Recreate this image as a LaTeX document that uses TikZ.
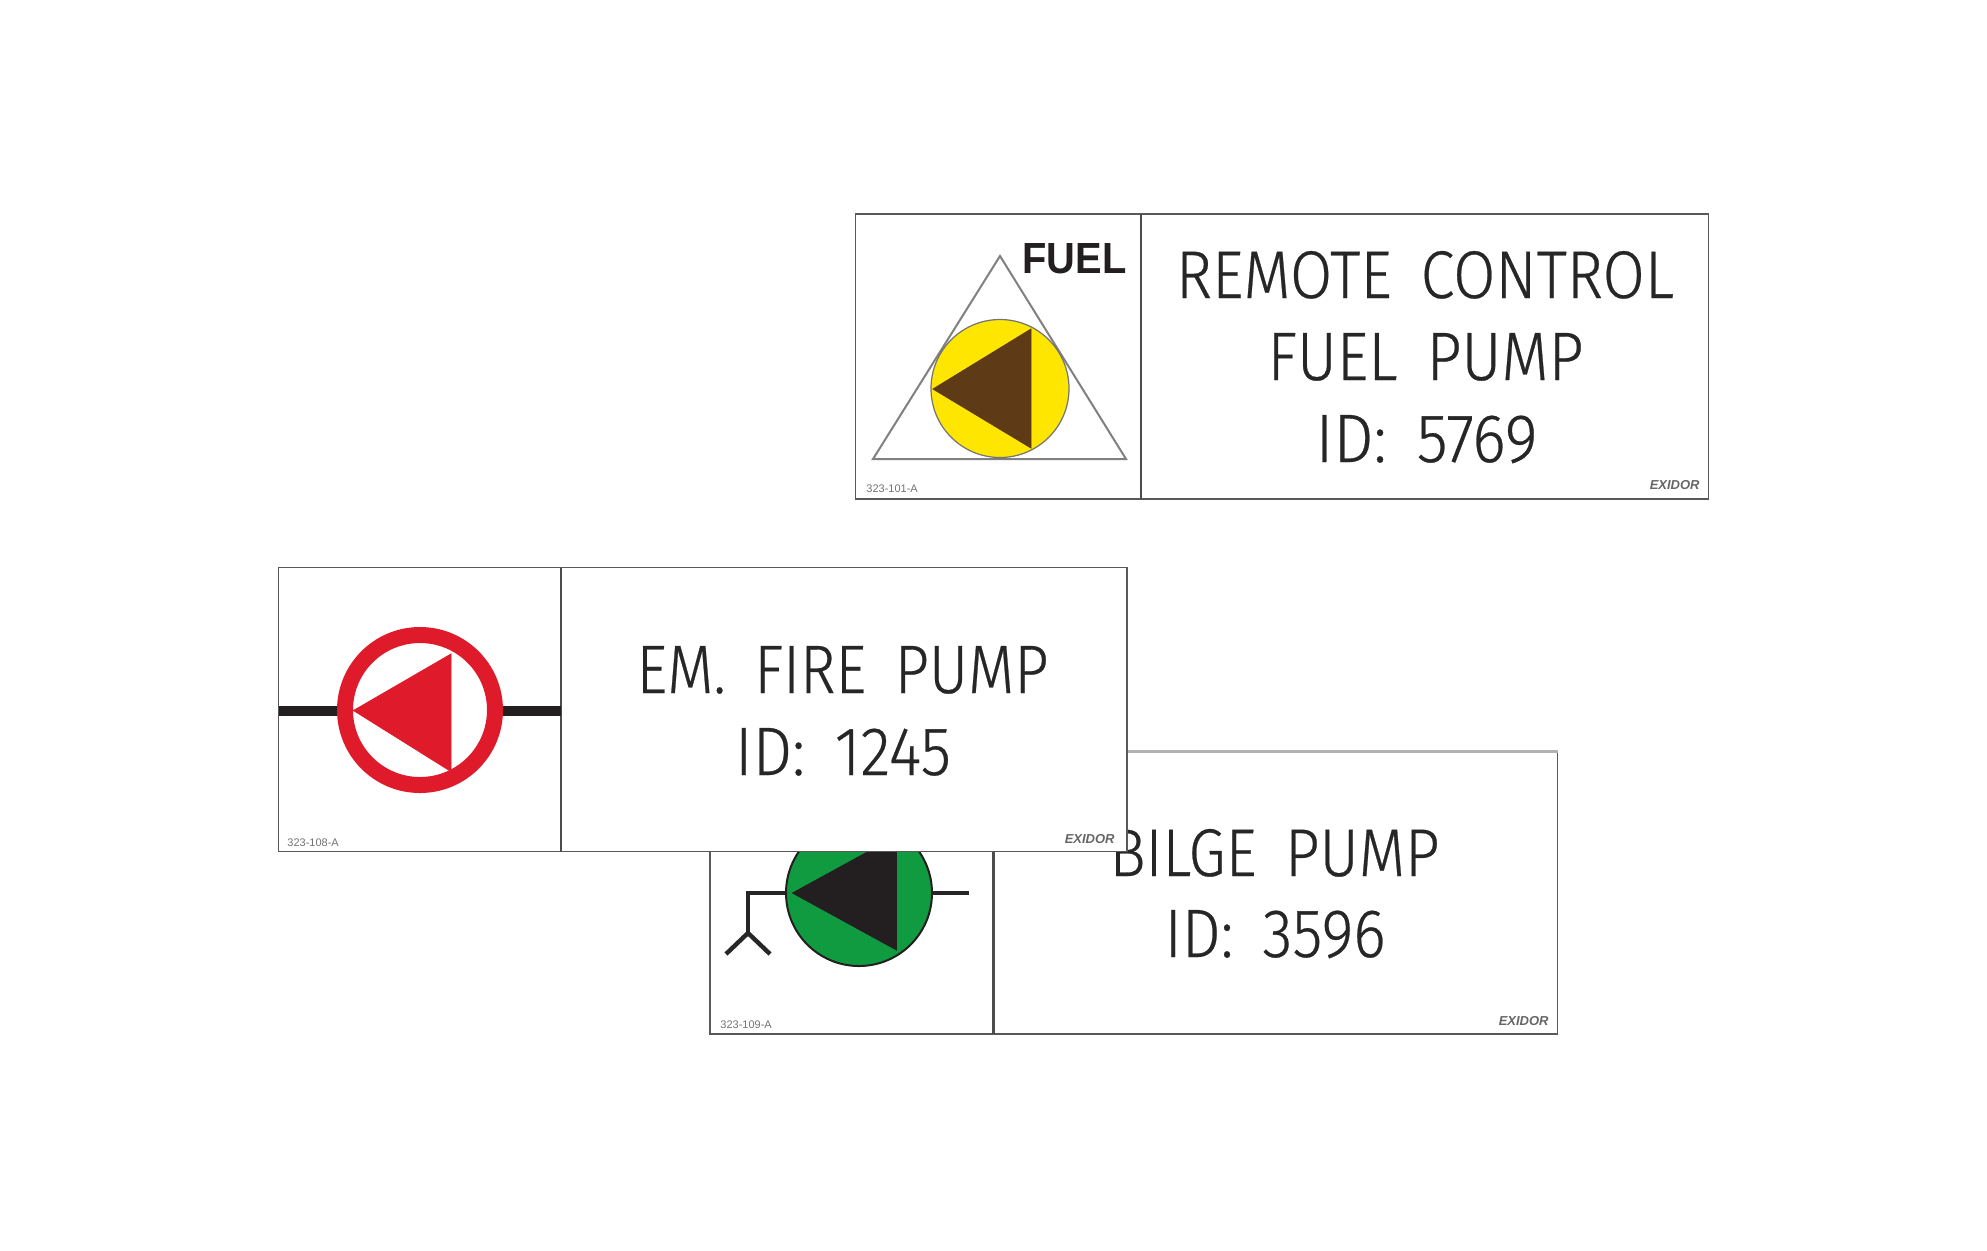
\documentclass[tikz,border=0pt]{standalone}
\usepackage{fontspec}
\setmainfont{Fira Sans Light}[WordSpace=1.7, FakeBold=0.4]
\newfontfamily\markfont{Liberation Sans}
\newcommand{\fitlabel}[3]{\resizebox{#1pt}{#2pt}{#3}}
\begin{document}
\begin{tikzpicture}[
    x=0.5pt, y=-0.5pt,
    plate/.style={draw=black!65, line width=0.7pt, fill=white},
    divider/.style={draw=black!70, line width=1.2pt},
    lab/.style={inner sep=0pt, anchor=base, text=black!85},
    code/.style={inner sep=0pt, anchor=base west, font=\markfont\fontsize{5.5}{6}\selectfont, text=black!55},
    brand/.style={inner sep=0pt, anchor=base east, font=\markfont\bfseries\itshape\fontsize{6.5}{7}\selectfont, text=black!60},
    disc/.style={line width=0.6pt},
    tri/.style={line width=0.4pt, line join=miter},
    pipe/.style={draw=black!85, line width=2.2pt}
  ]
    \definecolor{signyellow}{HTML}{FFE600}
    \definecolor{signbrown}{HTML}{5F3A17}
    \definecolor{signred}{HTML}{DE1A2B}
    \definecolor{signgreen}{HTML}{119B41}
    \definecolor{signdark}{HTML}{231F20}
    \useasboundingbox[fill=white] (0,0) rectangle (1987,1250);

    % fuel plate
    \draw[plate] (855.5,214) rectangle (1708.5,499);
    \draw[divider] (1141,214) -- (1141,499);
    \draw[draw=black!50, line width=1pt, line join=miter] (1000,256) -- (1126,459) -- (873,459) -- cycle;
    \draw[disc, draw=black!55, fill=signyellow] (1000,388.5) circle (69);
    \draw[tri, draw=signbrown, fill=signbrown] (933,389) -- (1031,329) -- (1031,448) -- cycle;
    \node[inner sep=0pt, anchor=base, text=signdark, font=\markfont\bfseries] (fueltag) at (1074.5,273)
      {\fitlabel{52}{15}{FUEL}};
    \node[lab] (fuelA) at (1425,298) {\fitlabel{249}{23.5}{REMOTE CONTROL}};
    \node[lab] (fuelB) at (1425.5,380) {\fitlabel{158}{23.5}{FUEL PUMP}};
    \node[lab] (fuelC) at (1426.5,462) {\fitlabel{111}{23.5}{ID: 5769}};
    \node[code] (fuelcode) at (866,492) {323-101-A};
    \node[brand] (fuelbrand) at (1700,489) {EXIDOR};

    % bilge plate, lies under the fire plate
    \draw[plate] (710,751) rectangle (1557.5,1034);
    \draw[draw=black!30, line width=1.2pt] (710,751.5) -- (1557.5,751.5);
    \draw[divider] (993.5,751) -- (993.5,1034);
    \draw[pipe] (932,893) -- (969,893);
    \draw[pipe, line join=miter] (786,893) -- (748,893) -- (748,933);
    \draw[pipe] (726,954) -- (748,933) -- (770,954);
    \draw[disc, draw=signdark, line width=1pt, fill=signgreen] (859,893) circle (73);
    \draw[tri, draw=signdark, fill=signdark] (792.5,893) -- (896.5,836) -- (896.5,950) -- cycle;
    \node[lab] (bilgeA) at (1274.5,876) {\fitlabel{165}{23.5}{BILGE PUMP}};
    \node[lab] (bilgeB) at (1275,957) {\fitlabel{110.5}{23.5}{ID: 3596}};
    \node[code] (bilgecode) at (720,1028) {323-109-A};
    \node[brand] (bilgebrand) at (1549,1025) {EXIDOR};

    % fire plate
    \draw[plate] (278.5,567.5) rectangle (1127,851.5);
    \draw[divider] (561,567.5) -- (561,851.5);
    \draw[draw=signdark, line width=5.2pt] (278.5,711) -- (340,711);
    \draw[draw=signdark, line width=5.2pt] (500,711) -- (561,711);
    \draw[draw=signred, line width=8pt, fill=white] (420,710) circle (75);
    \draw[tri, draw=signred, fill=signred] (353.5,710.5) -- (451,654) -- (451,771.5) -- cycle;
    \node[lab] (fireA) at (842.5,693) {\fitlabel{206}{23.5}{EM. FIRE PUMP}};
    \node[lab] (fireB) at (843,775) {\fitlabel{108}{23.5}{ID: 1245}};
    \node[code] (firecode) at (287,846) {323-108-A};
    \node[brand] (firebrand) at (1115,843) {EXIDOR};
  \end{tikzpicture}
\end{document}
